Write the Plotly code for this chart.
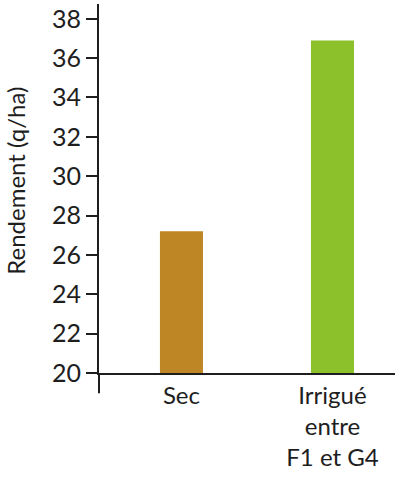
import plotly.graph_objects as go

categories = ["Sec", "Irrigué<br>entre<br>F1 et G4"]
values = [27.2, 36.9]
colors = ["#BF8626", "#8DC12B"]
y_ticks = [20, 22, 24, 26, 28, 30, 32, 34, 36, 38]
y_title = "Rendement (q/ha)"

FONT = "Lato"
INK = "#1e1e1e"

fig = go.Figure()
fig.add_trace(go.Bar(
    x=[0, 1], y=values, marker=dict(color=colors, line=dict(width=0)),
    width=0.285, base=0,
))

fig.update_layout(
    width=395, height=480,
    margin=dict(l=99, r=0, t=4, b=107, autoexpand=False),
    plot_bgcolor="white", paper_bgcolor="white",
    showlegend=False,
    font=dict(family=FONT, color=INK),
    xaxis=dict(
        range=[-0.546, 1.414], automargin=False,
        tickmode="array", tickvals=[0, 1], ticktext=categories,
        showline=True, linecolor=INK, linewidth=2,
        ticks="", showgrid=False, zeroline=False,
        tickfont=dict(size=24, family=FONT, color=INK),
    ),
    yaxis=dict(
        range=[20, 38.75], automargin=False,
        tickmode="array", tickvals=y_ticks,
        showline=True, linecolor=INK, linewidth=2,
        ticks="outside", ticklen=11, tickwidth=2, tickcolor=INK,
        showgrid=False, zeroline=False,
        tickfont=dict(size=25, family=FONT, color=INK),
    ),
    shapes=[dict(type="line", xref="paper", yref="paper",
                 x0=0, x1=0, y0=0, y1=-0.055,
                 line=dict(color=INK, width=2))],
    annotations=[dict(text=y_title, xref="paper", yref="paper",
                      x=-0.285, y=0.52, textangle=-90, showarrow=False,
                      xanchor="center", yanchor="middle",
                      font=dict(size=24, family=FONT, color=INK))],
)

fig.write_html("out.html", config={"displayModeBar": False},
               post_script="document.body.style.margin='0px';document.body.style.overflow='hidden';")
